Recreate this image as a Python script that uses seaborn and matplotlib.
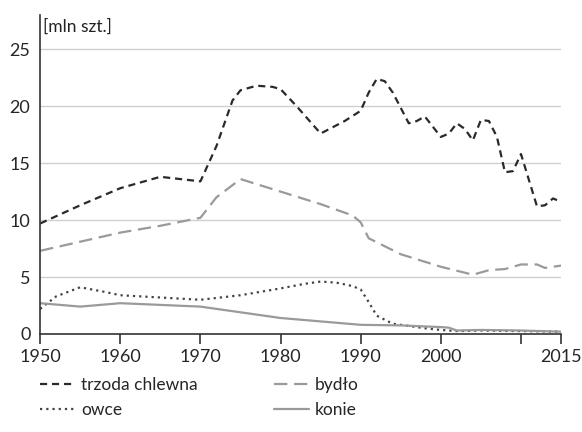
import pandas as pd
import matplotlib.pyplot as plt
import seaborn as sns

# pigs, cattle, sheep, horses in Poland [mln head]
pig_years = [1950, 1955, 1960, 1965, 1970, 1972, 1974, 1975, 1977, 1979, 1980, 1982, 1985,
             1988, 1990, 1991, 1992, 1993, 1994, 1996, 1997, 1998, 1999, 2000, 2001, 2002,
             2003, 2004, 2005, 2006, 2007, 2008, 2009, 2010, 2011, 2012, 2013, 2014, 2015]
pigs = [9.7, 11.3, 12.8, 13.8, 13.4, 16.5, 20.5, 21.4, 21.8, 21.7, 21.5, 20.0, 17.6,
        18.7, 19.6, 21.2, 22.4, 22.2, 21.2, 18.5, 18.7, 19.1, 18.2, 17.3, 17.6, 18.5,
        18.0, 17.0, 18.8, 18.7, 17.3, 14.2, 14.3, 15.8, 13.5, 11.2, 11.3, 11.9, 11.6]

cattle_years = [1950, 1955, 1960, 1965, 1970, 1972, 1975, 1980, 1985, 1989, 1990, 1991,
                1995, 2000, 2004, 2006, 2008, 2010, 2012, 2013, 2015]
cattle = [7.3, 8.1, 8.9, 9.5, 10.2, 12.0, 13.6, 12.5, 11.4, 10.4, 9.8, 8.4,
          7.0, 5.9, 5.2, 5.6, 5.7, 6.1, 6.1, 5.8, 6.0]

sheep_years = [1950, 1952, 1955, 1958, 1960, 1965, 1970, 1975, 1980, 1983, 1985, 1987,
               1989, 1990, 1991, 1992, 1994, 1996, 1998, 2000, 2002, 2005, 2010, 2015]
sheep = [2.2, 3.3, 4.1, 3.7, 3.4, 3.2, 3.0, 3.4, 4.0, 4.4, 4.6, 4.5,
         4.2, 3.9, 2.8, 1.6, 0.9, 0.7, 0.5, 0.35, 0.25, 0.3, 0.25, 0.2]

horse_years = [1950, 1955, 1960, 1965, 1970, 1975, 1980, 1985, 1990, 1995, 2000, 2001,
               2002, 2005, 2010, 2015]
horses = [2.7, 2.4, 2.7, 2.55, 2.4, 1.9, 1.4, 1.1, 0.8, 0.75, 0.6, 0.55,
          0.3, 0.35, 0.3, 0.2]

labels = ['trzoda chlewna', 'owce', 'bydło', 'konie']
x_ticks = [1950, 1960, 1970, 1980, 1990, 2000, 2010, 2015]
x_tick_labels = ['1950', '1960', '1970', '1980', '1990', '2000', '', '2015']
y_ticks = [0, 5, 10, 15, 20, 25]

sns.set_style('white')
plt.rcParams['font.family'] = ['Lato', 'DejaVu Sans']

fig = plt.figure(figsize=(5.82, 4.32), dpi=100)
ax = fig.add_axes([0.069, 0.227, 0.895, 0.738])

sns.lineplot(x=pig_years, y=pigs, ax=ax, color='#2a2a2a', lw=1.6,
             linestyle=(0, (3.2, 2.2)), label=labels[0])
sns.lineplot(x=sheep_years, y=sheep, ax=ax, color='#444444', lw=1.6,
             linestyle=(0, (1, 1.8)), label=labels[1])
sns.lineplot(x=cattle_years, y=cattle, ax=ax, color='#9a9a9a', lw=1.6,
             linestyle=(0, (6, 3)), label=labels[2])
sns.lineplot(x=horse_years, y=horses, ax=ax, color='#9a9a9a', lw=1.6,
             linestyle='-', label=labels[3])

ax.set_xlim(1950, 2015)
ax.set_ylim(0, 28)
ax.set_xticks(x_ticks)
ax.set_xticklabels(x_tick_labels)
ax.set_yticks(y_ticks)
for v in y_ticks[1:]:
    ax.axhline(v, color='#d0d0d0', lw=1, zorder=0)

for s in ['top', 'right']:
    ax.spines[s].set_visible(False)
for s in ['left', 'bottom']:
    ax.spines[s].set_color('#333333')
    ax.spines[s].set_linewidth(1.2)

ax.tick_params(axis='x', direction='out', length=7, width=1.2, color='#333333',
               labelsize=13, pad=4, bottom=True)
ax.tick_params(axis='y', length=0, labelsize=13, pad=7)
ax.set_xlabel('')
ax.set_ylabel('')

ax.text(0.006, 0.965, '[mln szt.]', transform=ax.transAxes, fontsize=12.5,
        va='center', ha='left', color='#222222')

ax.legend(loc='upper left', bbox_to_anchor=(0.0, -0.135), ncol=2, frameon=False,
          fontsize=12.5, handlelength=2.0, handletextpad=0.35, columnspacing=4.4,
          labelspacing=0.5, borderaxespad=0, borderpad=0)

fig.savefig('out.png', dpi=100)
